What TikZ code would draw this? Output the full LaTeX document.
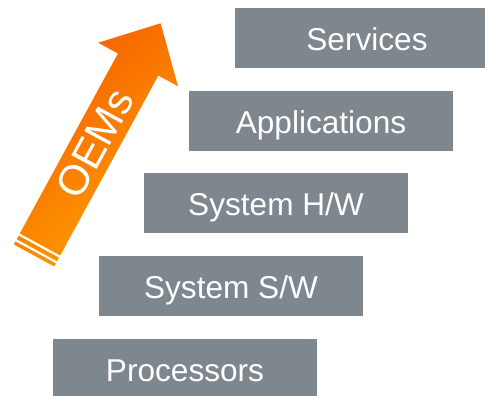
\documentclass[tikz,border=0pt]{standalone}
\usepackage{fontspec}
\setmainfont{Liberation Sans}
\definecolor{layergray}{RGB}{127,135,142}
\definecolor{oemdark}{RGB}{245,94,0}
\definecolor{oemmid}{RGB}{247,102,0}
\definecolor{oemlight}{RGB}{255,160,0}
\begin{document}
\begin{tikzpicture}[x=1pt,y=1pt]
   \path[use as bounding box] (0,0) rectangle (485,396);
   \clip (0,0) rectangle (485,396);
   \begin{scope}[every node/.style={fill=layergray,text=white,inner sep=0,
       minimum width=264,minimum height=60,text height=25,text depth=0,
       font=\fontsize{31.6}{36}\selectfont}]
    \node (proc) at (185,27) {Processors};
    \node (sysw) at (231,109.5) {System S/W};
    \node (syhw) at (276,193) {System H/W};
    \node (apps) at (321,274.5) {Applications};
    \node (serv) at (367,358) {Services};
   \end{scope}
   \begin{scope}[shift={(40,151.5)},rotate=61.4]
    % arrow body with the two stripes at its tail
    \shade[top color=oemdark,middle color=oemmid,bottom color=oemlight,shading angle=40]
      (0,-23) -- (205,-23) -- (205,-45.5) -- (252,0) -- (205,45.5) -- (205,23) -- (0,23) -- cycle
      (-2.5,-23) rectangle (-6.5,23)
      (-9,-23) rectangle (-12.5,23);
    \node[text=white,rotate=61.4,font=\fontsize{42}{48}\selectfont] (oems) at (115,0) {OEMs};
   \end{scope}
\end{tikzpicture}
\end{document}
